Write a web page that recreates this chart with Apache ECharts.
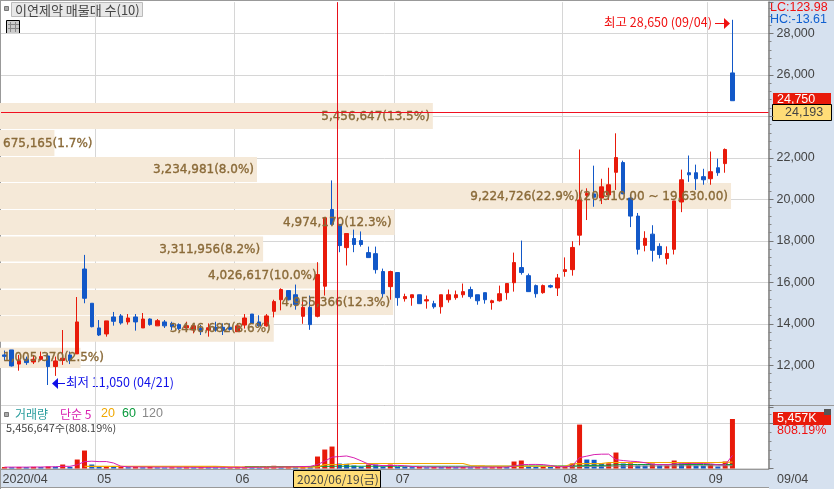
<!DOCTYPE html>
<html><head><meta charset="utf-8">
<style>
html,body{margin:0;padding:0;background:#fff;overflow:hidden}
#wrap{position:relative;width:834px;height:489px}
.p{position:absolute}
#main{position:absolute;left:0;top:0;width:834px;height:489px}
</style>
<script src="https://cdn.jsdelivr.net/npm/echarts@6/dist/echarts.min.js"></script>
</head><body><div id="wrap">
<div class="p" style="left:0;top:469px;width:834px;height:19px;background:#d6e1ef;border-top:1px solid #999;border-bottom:1px solid #999;box-sizing:border-box"></div>
<div class="p" style="left:769px;top:0;width:65px;height:489px;background:#d6e1ef"></div>
<div class="p" style="left:0;top:0;width:834px;height:1px;background:#999"></div>
<div class="p" style="left:0;top:0;width:1px;height:489px;background:#999"></div>
<div class="p" style="left:0;top:405px;width:834px;height:1px;background:#999"></div>
<div id="main"></div></div>
<script>
// [open, close, low, high]
const candles = [
[12500,12430,12230,12710],[12740,11970,11940,12740],[12060,12225,11740,12500],[12290,12130,12020,12420],
[12160,12290,12060,12500],[12290,12420,12230,12660],[12450,11940,11050,12580],[11940,12210,11490,12420],
[12230,12340,12020,13700],[12500,12230,12060,12660],[12550,14090,12550,15290],[16640,15230,14990,17320],
[14990,13860,13830,14990],[13800,13460,13410,14180],[13510,14140,13380,14140],[14330,14120,13910,14570],
[14380,14040,13960,14470],[14090,14280,13960,14470],[14330,14090,13670,14470],[13800,14230,13800,14520],
[14230,13960,13910,14260],[13900,14150,13900,14230],[14090,13900,13800,14180],[14020,13860,13700,14100],
[13960,13770,13700,14020],[13800,13910,13700,14100],[13700,13900,13540,13940],[13780,13620,13460,13940],
[13700,13810,13380,14020],[13830,13700,13620,14100],[13830,13670,13460,14020],[13830,13730,13670,14020],
[13620,13900,13620,14020],[13940,14280,13770,14470],[14470,14020,14000,14470],[14090,13900,13860,14410],
[13900,14380,13860,14470],[14600,15070,14310,15160],[15160,15650,14650,15710],[15600,15160,15130,15600],
[15400,14920,14680,15890],[14360,14790,14000,15240],[14790,13960,13710,15360],[14360,16370,14310,16970],
[15810,19110,15360,19110],[19510,18790,18740,20910],[18790,17770,17450,18790],[17670,18350,16810,18350],
[18110,17820,17450,18540],[18010,17820,17720,18450],[17430,17190,17190,17720],[17380,16610,16420,17720],
[16520,15450,15260,16660],[15790,16520,15160,16560],[16470,15260,14870,16470],[15210,15310,15070,15450],
[15260,15400,14870,15400],[15400,14970,14970,15400],[15100,15160,14730,15360],[14970,14820,14730,15110],
[14820,15400,14490,15400],[15160,15400,15020,15650],[15260,15400,15160,15600],[15400,15550,15260,15940],
[15650,15310,15210,15790],[15400,15110,14920,15400],[15500,15160,14970,15500],[15020,15110,14680,15160],
[15110,15450,15070,15840],[15500,15940,15160,15940],[15980,16950,15550,17430],[16710,16470,16370,18010],
[16320,15550,15550,16420],[15840,15450,15260,15890],[15500,15840,15450,15890],[15840,15770,15720,15890],
[15725,16210,15340,16400],[16520,16610,16270,17200],[16610,17680,16320,17980],[18270,19970,17780,22400],
[20190,20290,19000,20530],[20260,20100,19640,21620],[20060,20600,19770,20990],[20210,20700,19970,21520],
[21300,22010,20450,23180],[21770,20260,20260,21860],[20060,19190,18660,20260],[19190,17590,17340,19340],
[17780,18120,17490,18460],[18320,17540,17000,18750],[17730,17340,17150,17880],[17150,17390,16860,17730],
[17590,19920,17340,19920],[19870,20940,19380,21430],[21280,21180,20840,22110],[21280,20990,20450,21670],
[21090,20940,20700,21470],[20990,21330,20700,22300],[21520,21280,21130,21960],[21720,22400,21280,22450],
[26090,24750,24750,28650]];
// volume in thousands of shares
const volumes = [160,140,170,150,180,160,220,200,440,180,990,1980,440,200,230,170,190,140,160,130,170,120,110,130,120,140,120,150,130,120,110,120,170,190,150,130,180,300,220,240,180,230,210,1320,2090,2420,550,520,330,200,440,430,200,440,200,180,150,170,130,160,150,170,140,160,130,150,120,140,170,150,770,880,220,180,210,170,200,230,550,4840,990,960,550,570,1760,550,570,330,320,550,330,340,880,550,660,330,320,440,220,770,5457];
const ma5 = [150,150,150,150,162,164,182,192,240,240,406,758,806,758,768,604,246,186,178,160,160,150,150,150,140,140,130,125,125,130,130,130,130,125,130,140,145,150,155,170,190,215,235,436,806,1254,1318,1380,1182,844,488,384,320,334,342,300,220,180,166,160,150,150,150,150,150,150,150,150,150,150,270,422,444,450,430,332,196,198,282,1198,1362,1534,1578,1582,966,878,800,756,636,464,430,426,494,530,562,558,552,510,412,400,1441];
const ma20 = [null,null,null,null,null,null,null,null,null,null,null,230,230,230,230,230,230,230,230,230,230,230,230,230,230,230,230,230,230,230,210,180,170,160,160,160,160,160,160,160,160,160,160,170,430,440,440,450,550,550,550,550,550,550,550,550,550,550,550,550,550,550,550,550,330,300,280,270,260,260,250,250,250,250,250,250,250,250,520,540,540,540,540,660,660,660,660,660,660,660,660,660,660,660,660,660,660,660,660,680,700];
const ma60 = [null,null,null,null,null,null,null,null,null,null,null,null,null,null,null,null,null,null,null,null,null,null,null,null,null,null,null,null,null,null,null,null,null,220,220,220,220,220,220,220,220,220,220,230,230,240,250,250,250,250,250,250,250,250,250,250,250,250,250,250,250,250,250,250,250,250,250,250,250,250,260,270,280,280,280,280,280,280,280,300,320,340,350,360,420,440,440,440,440,440,440,440,440,440,440,440,440,440,440,440,440];
const ma120 = [null,null,null,null,null,null,null,null,null,null,null,null,null,null,null,null,null,null,null,null,null,null,null,null,null,null,null,null,null,null,null,null,null,null,null,null,null,null,null,null,null,null,null,null,null,null,null,null,null,null,null,null,null,null,null,null,null,null,null,null,null,null,null,null,null,null,null,null,null,null,null,null,null,null,null,null,200,200,200,210,220,230,240,250,270,270,270,280,280,280,290,290,290,290,300,300,300,300,300,300,310];
const tradingDays = candles.map((_, i) => 'd' + i);
// volume profile: [high price, low price, shares, label]
const profile = [
[24640,23387,5456647,'5,456,647(13.5%)'],
[23340,22088,675165,'675,165(1.7%)'],
[22040,20833,3234981,'3,234,981(8.0%)'],
[20785,19532,9224726,'9,224,726(22.9%)(20,910.00 ~ 19,630.00)'],
[19484,18280,4974170,'4,974,170(12.3%)'],
[18208,17000,3311956,'3,311,956(8.2%)'],
[16930,15700,4026617,'4,026,617(10.0%)'],
[15628,14424,4955366,'4,955,366(12.3%)'],
[14390,13137,3446682,'3,446,682(8.6%)'],
[12843,11873,1005370,'1,005,370(2.5%)']];
const monthPos = [12.6,31.6,53.6,76.65,96.6];
const monthLabels = ['05','06','07','08','09'];
const cursorPos = 45.78;
const cursorDate = '2020/06/19(금)';
const mainLine = 24193;
const UP='#e81a0a', DOWN='#1258c8', GRID='#d6d6d6', AXIS='#999', TXT='#444';
const NUM='"Liberation Sans"', KR='"Noto Sans CJK KR"';
const candleLeft=0.8, candleW=771.68, plotW=767.5;
const freeGrid={outerBoundsMode:'none'};

const txt=(x,y,t,fill,size,extra)=>({type:'text',x,y,style:Object.assign({text:t,fill,font:size+'px '+(extra&&extra.ff||NUM),textVerticalAlign:'middle'},extra&&extra.s||{})});
const rect=(x,y,w,h,fill,stroke)=>({type:'rect',shape:{x,y,width:w,height:h},style:{fill,stroke:stroke||null,lineWidth:1}});

const vLines=(xi,yi,name,color)=>({type:'line',xAxisIndex:xi,yAxisIndex:yi,data:[],silent:true,name,
  markLine:{silent:true,symbol:'none',animation:false,label:{show:false},lineStyle:{color:GRID,width:1,type:'solid'},z:0,
    data:monthPos.map(v=>({xAxis:v}))}});
const cursor=(xi,yi)=>({type:'line',xAxisIndex:xi,yAxisIndex:yi,data:[],silent:true,z:20,
  markLine:{silent:true,symbol:'none',animation:false,label:{show:false},z:20,lineStyle:{color:'#e8101a',width:1,type:'solid'},data:[{xAxis:cursorPos}]}});

const option={animation:false,backgroundColor:'transparent',
 grid:[
  {left:candleLeft,width:candleW,top:2.15,height:404.65,...freeGrid},
  {left:1,width:plotW,top:2.15,height:404.65,...freeGrid},
  {left:candleLeft,width:candleW,top:405,height:63.5,...freeGrid},
  {left:1,width:plotW,top:405,height:63.5,...freeGrid}],
 xAxis:[
  {gridIndex:0,type:'category',data:tradingDays.concat(['','','','','']),show:false},
  {gridIndex:1,type:'value',min:0,max:9698000,show:false},
  {gridIndex:1,type:'value',min:-0.412,max:105,show:false},
  {gridIndex:2,type:'category',data:tradingDays.concat(['','','','','']),show:false},
  {gridIndex:3,type:'value',min:-0.412,max:105,axisLine:{show:false},axisTick:{show:false},splitLine:{show:false},
   axisLabel:{show:true,customValues:[-0.2].concat(monthPos.map(v=>v+0.2)),hideOverlap:false,showMinLabel:true,showMaxLabel:true,color:TXT,fontFamily:NUM,fontSize:12.5,align:'left',margin:5,
     formatter:v=>v===-0.2?'2020/04':monthLabels[monthPos.findIndex(m=>Math.abs(m+0.2-v)<0.01)]}}],
 yAxis:[
  {gridIndex:0,type:'value',min:10000,max:29500,show:false},
  {gridIndex:1,type:'value',min:10000,max:29500,interval:2000,position:'right',
   axisLine:{show:true,onZero:false,lineStyle:{color:AXIS,width:2}},
   axisTick:{show:true,length:5,lineStyle:{color:'#777'}},
   minorTick:{show:true,splitNumber:5,length:3,lineStyle:{color:'#888'}},
   splitLine:{show:true,showMinLine:false,showMaxLine:false,lineStyle:{color:GRID,width:1}},
   axisLabel:{show:true,color:TXT,fontFamily:NUM,fontSize:12.5,margin:8,showMinLabel:false,showMaxLabel:false,
     formatter:v=>v===24000?'':v.toLocaleString('en-US')}},
  {gridIndex:2,type:'value',min:0,max:7000,show:false},
  {gridIndex:3,type:'value',min:0,max:7000,interval:5000,position:'right',
   axisLine:{show:true,onZero:false,lineStyle:{color:AXIS,width:2}},
   axisTick:{show:true,length:5,lineStyle:{color:'#777'}},
   minorTick:{show:true,splitNumber:5,length:3,lineStyle:{color:'#888'}},
   splitLine:{show:true,lineStyle:{color:GRID,width:1}},axisLabel:{show:false}}],
 series:[
  vLines(2,1,'mp',GRID),
  vLines(4,3,'mv',GRID),
  {type:'custom',name:'profile',xAxisIndex:1,yAxisIndex:1,z:3,silent:true,clip:false,
   data:profile.map(p=>p.slice(0,3)),encode:{x:2,y:[0,1]},
   renderItem:(par,api)=>{
    const a=api.coord([0,api.value(0)]),b=api.coord([api.value(2),api.value(1)]);
    return {type:'rect',shape:{x:0,y:a[1],width:b[0],height:b[1]-a[1]},style:{fill:'#f5e9d8'}};}},
  {type:'candlestick',name:'price',xAxisIndex:0,yAxisIndex:0,data:candles,z:5,barWidth:4,silent:true,
   itemStyle:{color:UP,color0:DOWN,borderColor:UP,borderColor0:DOWN,borderWidth:1}},
  {type:'custom',name:'profile labels',xAxisIndex:1,yAxisIndex:1,z:8,silent:true,clip:false,
   data:profile.map((p,i)=>[p[0],p[1],p[2],i]),encode:{x:2,y:[0,1]},
   renderItem:(par,api)=>{
    const a=api.coord([0,api.value(0)]),b=api.coord([api.value(2),api.value(1)]);
    const label=profile[api.value(3)][3],narrow=b[0]<120;
    return {type:'text',x:narrow?3:b[0]-3,y:(a[1]+b[1])/2+0.5,style:{text:label,fill:'#8a6a38',textAlign:narrow?'left':'right',textVerticalAlign:'middle',
      font:'12px "DejaVu Sans"',stroke:'#8a6a38',lineWidth:0.35}};}},
  {type:'line',name:'level',xAxisIndex:2,yAxisIndex:1,data:[],silent:true,z:15,
   markLine:{silent:true,symbol:'none',animation:false,label:{show:false},z:15,lineStyle:{color:'#f01020',width:1,type:'solid'},data:[{yAxis:mainLine}]}},
  cursor(2,1),
  {type:'bar',name:'volume',xAxisIndex:3,yAxisIndex:2,barWidth:5,z:4,silent:true,
   data:volumes.map((v,i)=>({value:v,itemStyle:{color:i>0&&v<volumes[i-1]?DOWN:UP}}))},
  {type:'line',name:'120',xAxisIndex:3,yAxisIndex:2,data:ma120,showSymbol:false,silent:true,z:5,lineStyle:{color:'#888',width:1}},
  {type:'line',name:'60',xAxisIndex:3,yAxisIndex:2,data:ma60,showSymbol:false,silent:true,z:5,lineStyle:{color:'#0a9a3c',width:1}},
  {type:'line',name:'20',xAxisIndex:3,yAxisIndex:2,data:ma20,showSymbol:false,silent:true,z:6,lineStyle:{color:'#f0a800',width:1.2}},
  {type:'line',name:'5',xAxisIndex:3,yAxisIndex:2,data:ma5,showSymbol:false,silent:true,z:7,lineStyle:{color:'#d81fb0',width:1}},
  cursor(4,3)
 ],
 graphic:{z:50,elements:[
  rect(4.5,6.5,4,4,'#aaa','#777'),
  rect(11.5,2.5,131,14,'#e8e8e8','#bbb'),
  txt(15,10,'이연제약 매물대 수(10)','#444',13,{ff:KR}),
  rect(6.5,20.5,13,13,'#ccc','#000'),
  {type:'polyline',shape:{points:[[10.5,22],[10.5,32]]},style:{stroke:'#888',fill:null}},
  {type:'polyline',shape:{points:[[15.5,22],[15.5,32]]},style:{stroke:'#888',fill:null}},
  {type:'polyline',shape:{points:[[8,24.5],[19,24.5]]},style:{stroke:'#888',fill:null}},
  {type:'polyline',shape:{points:[[8,28.5],[19,28.5]]},style:{stroke:'#888',fill:null}},
  txt(604,22,'최고 28,650 (09/04)','#f01010',12.5,{ff:KR}),
  {type:'polyline',shape:{points:[[715,23.5],[724,23.5]]},style:{stroke:'#f01010',fill:null}},
  {type:'polygon',shape:{points:[[724,18],[730,23.5],[724,29]]},style:{fill:'#f01010'}},
  txt(66,382,'최저 11,050 (04/21)','#1010e8',12.5,{ff:KR}),
  {type:'polyline',shape:{points:[[57,383.5],[65,383.5]]},style:{stroke:'#1010e8',fill:null}},
  {type:'polygon',shape:{points:[[58,378],[52,383.5],[58,389]]},style:{fill:'#1010e8'}},
  txt(770,8,'LC:123.98','#f01010',12.5),
  txt(770,20,'HC:-13.61','#1060d0',12.5),
  rect(773,93,58,12,'#e81a0a'),
  txt(777,99.5,'24,750','#fff',12.5),
  rect(772.5,104.5,59,16,'#ffdd77','#000'),
  txt(785,113,'24,193',TXT,12.5),
  rect(773,412,58,13,'#e81a0a'),
  txt(777,419,'5,457K','#fff',12.5),
  txt(777,431,'808.19%','#f01010',12.5),
  rect(824,409,7,6,'#555'),
  rect(4.5,412.5,4,4,'#aaa','#777'),
  txt(15,414,'거래량','#2a9d9d',12,{ff:KR}),
  txt(60,414,'단순 5','#d81fb0',12,{ff:KR}),
  txt(101,414,'20','#f0a800',12.5),
  txt(122,414,'60','#0a9a3c',12.5),
  txt(142,414,'120','#888',12.5),
  txt(6,428,'5,456,647주(808.19%)','#444',11,{ff:KR}),
  rect(293.5,470.5,87,17,'#ffdd77','#000'),
  txt(297,479,cursorDate,TXT,12,{ff:KR}),
  txt(777,479.5,'09/04',TXT,12.5)
 ]}
};
const chart=echarts.init(document.getElementById('main'),null,{renderer:'canvas',width:834,height:489});
chart.setOption(option);
</script></body></html>
